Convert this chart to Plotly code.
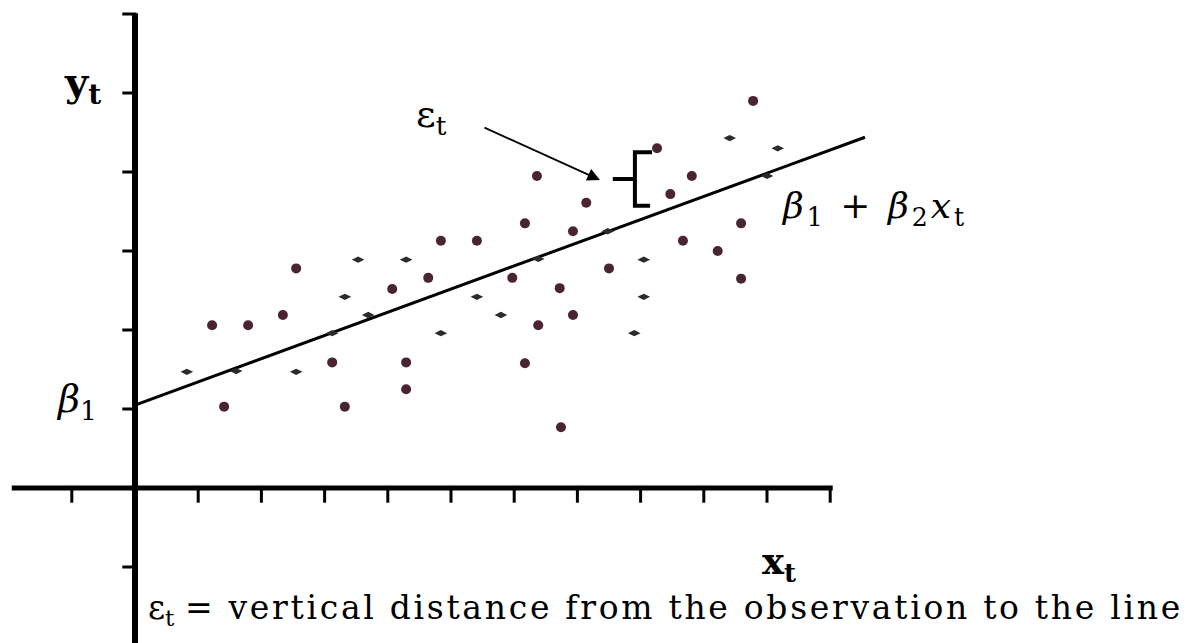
import plotly.graph_objects as go

# observations drawn with the larger dots
big_x = [1.22, 1.79, 1.41, 2.34, 2.55, 3.12, 3.32, 4.07, 4.29, 4.29, 4.64, 4.84, 5.41,
         5.97, 6.17, 6.17, 6.38, 6.36, 6.72, 6.74, 6.93, 6.93, 7.14, 7.50, 8.26, 8.47,
         8.67, 8.81, 9.22, 9.59, 9.59, 9.78]
big_y = [2.06, 2.06, 1.03, 2.19, 2.78, 1.59, 1.03, 2.52, 1.59, 1.25, 2.66, 3.13, 3.13,
         2.66, 1.58, 3.35, 2.06, 3.95, 2.53, 0.77, 2.19, 3.25, 3.61, 2.78, 4.30, 3.72,
         3.13, 3.95, 3.00, 3.35, 2.65, 4.90]

# observations drawn with the small dots
small_x = [0.82, 1.60, 2.55, 3.12, 3.32, 3.53, 3.69, 4.29, 4.84, 5.41, 5.79, 6.38, 7.48,
           7.90, 8.05, 8.05, 9.41, 10.00, 10.17]
small_y = [1.47, 1.48, 1.47, 1.96, 2.42, 2.89, 2.19, 2.89, 1.96, 2.42, 2.19, 2.90, 3.25,
           1.96, 2.89, 2.42, 4.43, 3.95, 4.30]

# fitted line beta1 + beta2 * x
fit_x = [0.0, 11.55]
fit_y = [1.05, 4.44]

x_ticks = [-1, 1, 2, 3, 4, 5, 6, 7, 8, 9, 10, 11]
y_ticks = [-1, 1, 2, 3, 4, 5, 6]

# the observation whose residual is marked with the brace
resid_obs = (8.26, 4.30)

# pixel scale of the drawing (origin at 135, 488)
X0, UX, Y0, UY, W, H = 135, 63.2, 488, 79, 1194, 643

fig = go.Figure()

# axes
fig.add_trace(go.Scatter(x=[-1.95, 11.04], y=[0, 0], mode="lines",
                         line=dict(color="black", width=5), hoverinfo="skip"))
fig.add_trace(go.Scatter(x=[0, 0], y=[6.01, -2.1], mode="lines",
                         line=dict(color="black", width=6), hoverinfo="skip"))
fig.add_trace(go.Scatter(x=x_ticks, y=[-0.08] * len(x_ticks), mode="markers",
                         marker=dict(symbol="line-ns", size=12, line=dict(color="black", width=3)),
                         hoverinfo="skip"))
fig.add_trace(go.Scatter(x=[-0.09] * len(y_ticks), y=y_ticks, mode="markers",
                         marker=dict(symbol="line-ew", size=10, line=dict(color="black", width=3)),
                         hoverinfo="skip"))

# fitted line
fig.add_trace(go.Scatter(x=fit_x, y=fit_y, mode="lines",
                         line=dict(color="black", width=3), hoverinfo="skip"))

# observations
fig.add_trace(go.Scatter(x=big_x, y=big_y, mode="markers",
                         marker=dict(size=10, color="#4a2530")))
fig.add_trace(go.Scatter(x=small_x, y=small_y, mode="markers",
                         marker=dict(symbol="diamond-wide", size=9, color="#2e2a2c")))

# brace showing the residual
ox, oy = resid_obs
fitted = fit_y[0] + (fit_y[1] - fit_y[0]) / (fit_x[1] - fit_x[0]) * ox
bx = ox - 0.35
top, bot = oy - 0.05, fitted + 0.1
mid = (top + bot) / 2
fig.add_shape(type="path", xref="x", yref="y",
              path=f"M {bx + 0.27},{top} L {bx},{top} L {bx},{bot} L {bx + 0.24},{bot} "
                   f"M {bx - 0.35},{mid} L {bx},{mid}",
              line=dict(color="black", width=4))

serif = "DejaVu Serif"


def px_x(p):
    return (p - X0) / UX


def px_y(p):
    return (Y0 - p) / UY


def spaced(s, gap):
    return f'<span style="letter-spacing:{gap}px">{s}</span>'


# arrow pointing at the brace
fig.add_annotation(x=px_x(600), y=px_y(180), ax=px_x(483), ay=px_y(127),
                   xref="x", yref="y", axref="x", ayref="y", text="",
                   showarrow=True, arrowhead=2, arrowsize=1.4, arrowwidth=1.8,
                   arrowcolor="black")

labels = [
    ("<b>y<sub>t</sub></b>", 82, 84, 40, "center"),
    ("<b>x<sub>t</sub></b>", 779, 563, 37, "center"),
    ("<i>β</i><sub>1</sub>", 76, 401, 38, "center"),
    (spaced("<i>β</i><sub>1</sub> + <i>β</i><sub>2</sub><i>x</i><sub>t</sub>", 3), 874, 208, 36, "center"),
    ("ε<sub>t</sub>", 431, 116, 38, "center"),
    ("ε<sub>t</sub> " + spaced("= vertical distance from the observation to the line", 2.7),
     146, 609, 33, "left"),
]
for text, px, py, size, anchor in labels:
    fig.add_annotation(x=px_x(px), y=px_y(py), xref="x", yref="y", text=text,
                       showarrow=False, xanchor=anchor, yanchor="middle",
                       font=dict(family=serif, size=size, color="black"))

fig.update_xaxes(range=[-X0 / UX, (W - X0) / UX], visible=False)
fig.update_yaxes(range=[-(H - Y0) / UY, Y0 / UY], visible=False)
fig.update_layout(width=W, height=H, margin=dict(l=0, r=0, t=0, b=0),
                  plot_bgcolor="white", paper_bgcolor="white", showlegend=False)

fig.write_html("out.html", config={"displayModeBar": False},
               post_script="document.body.style.margin='0';")
